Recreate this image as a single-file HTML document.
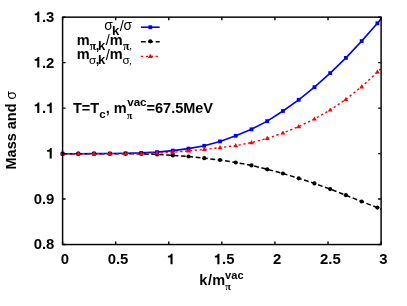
<!DOCTYPE html>
<html><head><meta charset="utf-8"><style>
html,body{margin:0;padding:0;background:#fff;}
svg{display:block;will-change:transform;}
text{font-family:"Liberation Sans",sans-serif;font-weight:bold;font-size:14.5px;fill:#000;}
.r{font-weight:normal;}
.e{font-family:"Liberation Serif",serif;font-weight:normal;}
.eb{font-family:"Liberation Serif",serif;font-weight:bold;}
.s{font-size:11.6px;}
</style></head><body>
<svg width="407" height="306" viewBox="0 0 407 306">
<rect width="407" height="306" fill="#fff"/>
<defs><clipPath id="c"><rect x="62.6" y="17.15" width="318.5" height="227.4"/></clipPath></defs>
<g clip-path="url(#c)"><polyline points="62.60,153.70 78.34,153.70 94.08,153.65 109.82,153.50 125.56,153.30 141.30,152.90 157.04,152.10 172.78,150.60 188.52,148.60 204.26,145.80 220.00,141.40 235.74,135.80 251.48,129.30 267.22,121.10 282.96,111.00 298.70,99.80 314.44,87.20 330.18,73.10 345.92,57.90 361.66,41.10 377.40,23.30 393.14,4.08" fill="none" stroke="#0000ff" stroke-width="1.6" stroke-linejoin="round"/></g>
<rect x="60.70" y="151.80" width="3.8" height="3.8" fill="#0000ff"/>
<rect x="76.44" y="151.80" width="3.8" height="3.8" fill="#0000ff"/>
<rect x="92.18" y="151.75" width="3.8" height="3.8" fill="#0000ff"/>
<rect x="107.92" y="151.60" width="3.8" height="3.8" fill="#0000ff"/>
<rect x="123.66" y="151.40" width="3.8" height="3.8" fill="#0000ff"/>
<rect x="139.40" y="151.00" width="3.8" height="3.8" fill="#0000ff"/>
<rect x="155.14" y="150.20" width="3.8" height="3.8" fill="#0000ff"/>
<rect x="170.88" y="148.70" width="3.8" height="3.8" fill="#0000ff"/>
<rect x="186.62" y="146.70" width="3.8" height="3.8" fill="#0000ff"/>
<rect x="202.36" y="143.90" width="3.8" height="3.8" fill="#0000ff"/>
<rect x="218.10" y="139.50" width="3.8" height="3.8" fill="#0000ff"/>
<rect x="233.84" y="133.90" width="3.8" height="3.8" fill="#0000ff"/>
<rect x="249.58" y="127.40" width="3.8" height="3.8" fill="#0000ff"/>
<rect x="265.32" y="119.20" width="3.8" height="3.8" fill="#0000ff"/>
<rect x="281.06" y="109.10" width="3.8" height="3.8" fill="#0000ff"/>
<rect x="296.80" y="97.90" width="3.8" height="3.8" fill="#0000ff"/>
<rect x="312.54" y="85.30" width="3.8" height="3.8" fill="#0000ff"/>
<rect x="328.28" y="71.20" width="3.8" height="3.8" fill="#0000ff"/>
<rect x="344.02" y="56.00" width="3.8" height="3.8" fill="#0000ff"/>
<rect x="359.76" y="39.20" width="3.8" height="3.8" fill="#0000ff"/>
<rect x="375.50" y="21.40" width="3.8" height="3.8" fill="#0000ff"/>
<g clip-path="url(#c)"><polyline points="62.60,153.70 78.34,153.70 94.08,153.70 109.82,153.75 125.56,153.80 141.30,153.90 157.04,154.40 172.78,155.40 188.52,156.50 204.26,158.20 220.00,160.00 235.74,162.50 251.48,165.40 267.22,169.30 282.96,173.50 298.70,178.30 314.44,183.40 330.18,189.10 345.92,195.20 361.66,201.50 377.40,207.60 393.14,214.19" fill="none" stroke="#000" stroke-width="1.5" stroke-dasharray="4.8 2.6"/></g>
<circle cx="62.60" cy="153.70" r="2.1" fill="#000"/>
<circle cx="78.34" cy="153.70" r="2.1" fill="#000"/>
<circle cx="94.08" cy="153.70" r="2.1" fill="#000"/>
<circle cx="109.82" cy="153.75" r="2.1" fill="#000"/>
<circle cx="125.56" cy="153.80" r="2.1" fill="#000"/>
<circle cx="141.30" cy="153.90" r="2.1" fill="#000"/>
<circle cx="157.04" cy="154.40" r="2.1" fill="#000"/>
<circle cx="172.78" cy="155.40" r="2.1" fill="#000"/>
<circle cx="188.52" cy="156.50" r="2.1" fill="#000"/>
<circle cx="204.26" cy="158.20" r="2.1" fill="#000"/>
<circle cx="220.00" cy="160.00" r="2.1" fill="#000"/>
<circle cx="235.74" cy="162.50" r="2.1" fill="#000"/>
<circle cx="251.48" cy="165.40" r="2.1" fill="#000"/>
<circle cx="267.22" cy="169.30" r="2.1" fill="#000"/>
<circle cx="282.96" cy="173.50" r="2.1" fill="#000"/>
<circle cx="298.70" cy="178.30" r="2.1" fill="#000"/>
<circle cx="314.44" cy="183.40" r="2.1" fill="#000"/>
<circle cx="330.18" cy="189.10" r="2.1" fill="#000"/>
<circle cx="345.92" cy="195.20" r="2.1" fill="#000"/>
<circle cx="361.66" cy="201.50" r="2.1" fill="#000"/>
<circle cx="377.40" cy="207.60" r="2.1" fill="#000"/>
<g clip-path="url(#c)"><polyline points="62.60,153.70 78.34,153.70 94.08,153.70 109.82,153.70 125.56,153.60 141.30,153.50 157.04,153.10 172.78,152.30 188.52,150.90 204.26,149.40 220.00,147.70 235.74,145.60 251.48,142.60 267.22,138.40 282.96,133.00 298.70,126.60 314.44,119.00 330.18,110.00 345.92,99.30 361.66,86.80 377.40,72.00 393.14,56.02" fill="none" stroke="#ff0000" stroke-width="1.4" stroke-dasharray="2.3 2.6"/></g>
<path d="M60.20 155.30L65.00 155.30L62.60 151.10Z" fill="#ff0000"/>
<path d="M75.94 155.30L80.74 155.30L78.34 151.10Z" fill="#ff0000"/>
<path d="M91.68 155.30L96.48 155.30L94.08 151.10Z" fill="#ff0000"/>
<path d="M107.42 155.30L112.22 155.30L109.82 151.10Z" fill="#ff0000"/>
<path d="M123.16 155.20L127.96 155.20L125.56 151.00Z" fill="#ff0000"/>
<path d="M138.90 155.10L143.70 155.10L141.30 150.90Z" fill="#ff0000"/>
<path d="M154.64 154.70L159.44 154.70L157.04 150.50Z" fill="#ff0000"/>
<path d="M170.38 153.90L175.18 153.90L172.78 149.70Z" fill="#ff0000"/>
<path d="M186.12 152.50L190.92 152.50L188.52 148.30Z" fill="#ff0000"/>
<path d="M201.86 151.00L206.66 151.00L204.26 146.80Z" fill="#ff0000"/>
<path d="M217.60 149.30L222.40 149.30L220.00 145.10Z" fill="#ff0000"/>
<path d="M233.34 147.20L238.14 147.20L235.74 143.00Z" fill="#ff0000"/>
<path d="M249.08 144.20L253.88 144.20L251.48 140.00Z" fill="#ff0000"/>
<path d="M264.82 140.00L269.62 140.00L267.22 135.80Z" fill="#ff0000"/>
<path d="M280.56 134.60L285.36 134.60L282.96 130.40Z" fill="#ff0000"/>
<path d="M296.30 128.20L301.10 128.20L298.70 124.00Z" fill="#ff0000"/>
<path d="M312.04 120.60L316.84 120.60L314.44 116.40Z" fill="#ff0000"/>
<path d="M327.78 111.60L332.58 111.60L330.18 107.40Z" fill="#ff0000"/>
<path d="M343.52 100.90L348.32 100.90L345.92 96.70Z" fill="#ff0000"/>
<path d="M359.26 88.40L364.06 88.40L361.66 84.20Z" fill="#ff0000"/>
<path d="M375.00 73.60L379.80 73.60L377.40 69.40Z" fill="#ff0000"/>
<g stroke="#000" stroke-width="1.4" fill="none">
<path d="M62.60 244.55v-3.0M62.60 17.15v3.0"/>
<path d="M115.68 244.55v-3.0M115.68 17.15v3.0"/>
<path d="M168.77 244.55v-3.0M168.77 17.15v3.0"/>
<path d="M221.85 244.55v-3.0M221.85 17.15v3.0"/>
<path d="M274.93 244.55v-3.0M274.93 17.15v3.0"/>
<path d="M328.02 244.55v-3.0M328.02 17.15v3.0"/>
<path d="M381.10 244.55v-3.0M381.10 17.15v3.0"/>
<path d="M62.6 244.55h3.0M381.1 244.55h-3.0"/>
<path d="M62.6 199.07h3.0M381.1 199.07h-3.0"/>
<path d="M62.6 153.59h3.0M381.1 153.59h-3.0"/>
<path d="M62.6 108.11h3.0M381.1 108.11h-3.0"/>
<path d="M62.6 62.63h3.0M381.1 62.63h-3.0"/>
<path d="M62.6 17.15h3.0M381.1 17.15h-3.0"/>
</g>
<rect x="62.6" y="17.15" width="318.50" height="227.40" fill="none" stroke="#000" stroke-width="1.45"/>
<text x="60.76" y="264.30" style="font-size:14.9px">0</text>
<text x="107.63" y="264.30" style="font-size:14.9px">0</text><text x="115.91" y="264.30" style="font-size:14.9px">.</text><text x="120.05" y="264.30" style="font-size:14.9px">5</text>
<path d="M170.47 264.30L172.56 264.30L172.56 253.72L170.92 253.72C170.68 255.03 169.64 255.78 167.95 255.87L167.95 257.48L170.47 257.48Z" fill="#000"/>
<path d="M217.34 264.30L219.43 264.30L219.43 253.72L217.79 253.72C217.55 255.03 216.51 255.78 214.82 255.87L214.82 257.48L217.34 257.48Z" fill="#000"/><text x="222.08" y="264.30" style="font-size:14.9px">.</text><text x="226.22" y="264.30" style="font-size:14.9px">5</text>
<text x="273.09" y="264.30" style="font-size:14.9px">2</text>
<text x="319.96" y="264.30" style="font-size:14.9px">2</text><text x="328.25" y="264.30" style="font-size:14.9px">.</text><text x="332.39" y="264.30" style="font-size:14.9px">5</text>
<text x="379.26" y="264.30" style="font-size:14.9px">3</text>
<text x="33.69" y="249.45" style="font-size:14.9px">0</text><text x="41.97" y="249.45" style="font-size:14.9px">.</text><text x="46.11" y="249.45" style="font-size:14.9px">8</text>
<text x="33.69" y="203.97" style="font-size:14.9px">0</text><text x="41.97" y="203.97" style="font-size:14.9px">.</text><text x="46.11" y="203.97" style="font-size:14.9px">9</text>
<path d="M49.66 158.49L51.75 158.49L51.75 147.91L50.11 147.91C49.87 149.22 48.83 149.97 47.14 150.06L47.14 151.67L49.66 151.67Z" fill="#000"/>
<path d="M37.23 113.01L39.32 113.01L39.32 102.43L37.68 102.43C37.44 103.74 36.40 104.49 34.72 104.58L34.72 106.19L37.23 106.19Z" fill="#000"/><text x="41.97" y="113.01" style="font-size:14.9px">.</text><path d="M49.66 113.01L51.75 113.01L51.75 102.43L50.11 102.43C49.87 103.74 48.83 104.49 47.14 104.58L47.14 106.19L49.66 106.19Z" fill="#000"/>
<path d="M37.23 67.53L39.32 67.53L39.32 56.95L37.68 56.95C37.44 58.26 36.40 59.01 34.72 59.10L34.72 60.71L37.23 60.71Z" fill="#000"/><text x="41.97" y="67.53" style="font-size:14.9px">.</text><text x="46.11" y="67.53" style="font-size:14.9px">2</text>
<path d="M37.23 22.05L39.32 22.05L39.32 11.47L37.68 11.47C37.44 12.78 36.40 13.53 34.72 13.62L34.72 15.23L37.23 15.23Z" fill="#000"/><text x="41.97" y="22.05" style="font-size:14.9px">.</text><text x="46.11" y="22.05" style="font-size:14.9px">3</text>
<text x="104.32" y="30.40" style="font-size:13.8px" class="r">σ</text>
<text x="112.09" y="35.10" style="font-size:13.0px">k</text>
<text x="119.80" y="30.90" style="font-size:14.5px" class="r">/</text>
<text x="123.42" y="30.40" style="font-size:13.8px" class="r">σ</text>
<text x="76.84" y="44.80" style="font-size:14.5px">m</text>
<text x="89.85" y="49.50" style="font-size:11.6px" class="eb">π</text>
<text x="95.72" y="49.50" style="font-size:13.0px">,</text>
<text x="97.99" y="49.50" style="font-size:13.0px">k</text>
<text x="105.80" y="45.40" style="font-size:14.5px" class="r">/</text>
<text x="109.74" y="44.80" style="font-size:14.5px">m</text>
<text x="123.05" y="49.50" style="font-size:11.6px" class="eb">π</text>
<text x="129.20" y="49.30" style="font-size:10.5px" class="e">,</text>
<text x="76.84" y="59.20" style="font-size:14.5px">m</text>
<text x="89.10" y="63.90" style="font-size:11.8px" class="r">σ</text>
<text x="95.72" y="63.90" style="font-size:13.0px">,</text>
<text x="97.99" y="63.90" style="font-size:13.0px">k</text>
<text x="105.80" y="59.80" style="font-size:14.5px" class="r">/</text>
<text x="109.74" y="59.20" style="font-size:14.5px">m</text>
<text x="122.40" y="63.90" style="font-size:11.8px" class="r">σ</text>
<text x="129.20" y="63.70" style="font-size:10.5px" class="e">,</text>
<path d="M140.9 27.2H159.7" stroke="#0000ff" stroke-width="1.6"/>
<rect x="148.4" y="25.3" width="3.8" height="3.8" fill="#0000ff"/>
<path d="M140.9 41.7H159.7" stroke="#000" stroke-width="1.5" stroke-dasharray="4.8 2.6"/>
<circle cx="150.3" cy="41.3" r="2.1" fill="#000"/>
<path d="M140.9 56.4H159.7" stroke="#ff0000" stroke-width="1.4" stroke-dasharray="2.3 2.6"/>
<path d="M147.90 58.00L152.70 58.00L150.30 53.80Z" fill="#ff0000"/>
<!-- annotation -->
<text x="73.0" y="113.2">T=T<tspan class="s" dy="4.5">c</tspan><tspan dy="-4.5">, m</tspan><tspan class="s" dy="-7.4" dx="0.6">vac</tspan><tspan dy="7.4">=67.5MeV</tspan></text>
<text x="126.8" y="118.8" class="eb" style="font-size:10.2px">π</text>
<!-- xlabel -->
<text x="199.2" y="285.2">k<tspan dx="0.7">/</tspan><tspan dx="0.3">m</tspan><tspan style="font-size:11.1px" dy="-6.45" dx="-0.1">vac</tspan></text>
<text x="225.3" y="290.3" class="eb" style="font-size:10.2px">π</text>
<!-- ylabel -->
<text transform="translate(15.5 130.2) rotate(-90)" text-anchor="middle">Mass and <tspan class="r" style="font-size:13.8px">σ</tspan></text>
</svg>
</body></html>
